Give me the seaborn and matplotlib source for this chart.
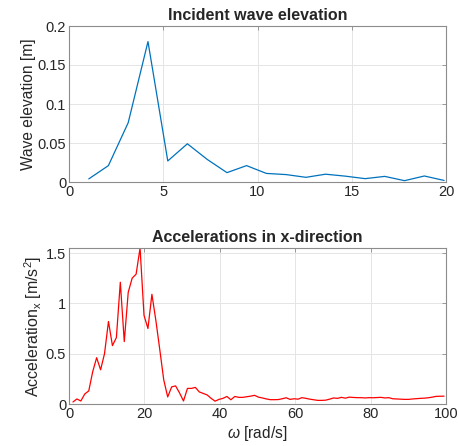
import numpy as np
import pandas as pd
import matplotlib
matplotlib.use("Agg")
import matplotlib.pyplot as plt
import seaborn as sns

# ---- data ----
wave_omega = [1.05, 2.09, 3.14, 4.19, 5.24, 6.28, 7.33, 8.38, 9.42, 10.47,
              11.52, 12.57, 13.61, 14.66, 15.71, 16.75, 17.80, 18.85, 19.90]
wave_elev = [0.004, 0.021, 0.076, 0.180, 0.027, 0.049, 0.029, 0.012, 0.021, 0.011,
             0.0095, 0.006, 0.010, 0.0075, 0.0043, 0.0072, 0.0017, 0.0077, 0.002]

acc_omega = [1.05, 2.09, 3.14, 4.19, 5.24, 6.28, 7.33, 8.38, 9.42, 10.47,
             11.52, 12.57, 13.61, 14.66, 15.71, 16.75, 17.80, 18.85, 19.90, 20.94,
             21.99, 23.04, 24.08, 25.13, 26.18, 27.23, 28.27, 29.32, 30.37, 31.42,
             32.46, 33.51, 34.56, 35.60, 36.65, 37.70, 38.75, 39.79, 40.84, 41.89,
             42.94, 43.98, 45.03, 46.08, 47.12, 48.17, 49.22, 50.27, 51.31, 52.36,
             53.41, 54.45, 55.50, 56.55, 57.60, 58.64, 59.69, 60.74, 61.78, 62.83,
             63.88, 64.93, 65.97, 67.02, 68.07, 69.12, 70.16, 71.21, 72.26, 73.30,
             74.35, 75.40, 76.45, 77.49, 78.54, 79.59, 80.63, 81.68, 82.73, 83.78,
             84.82, 85.87, 86.92, 87.96, 89.01, 90.06, 91.11, 92.15, 93.20, 94.25,
             95.29, 96.34, 97.39, 98.44, 99.48]
acc_x = [0.02, 0.05, 0.03, 0.10, 0.13, 0.32, 0.46, 0.34, 0.50, 0.82,
         0.58, 0.66, 1.21, 0.62, 1.11, 1.25, 1.29, 1.55, 0.88, 0.75,
         1.09, 0.83, 0.54, 0.24, 0.07, 0.17, 0.18, 0.11, 0.03, 0.155,
         0.155, 0.165, 0.12, 0.105, 0.09, 0.056, 0.028, 0.046, 0.056, 0.075,
         0.042, 0.075, 0.066, 0.066, 0.072, 0.078, 0.086, 0.068, 0.060, 0.050,
         0.043, 0.043, 0.044, 0.052, 0.062, 0.046, 0.052, 0.048, 0.063, 0.056,
         0.048, 0.042, 0.036, 0.036, 0.038, 0.048, 0.060, 0.056, 0.066, 0.058,
         0.068, 0.065, 0.063, 0.063, 0.060, 0.063, 0.062, 0.064, 0.066, 0.060,
         0.063, 0.052, 0.050, 0.048, 0.046, 0.046, 0.050, 0.053, 0.056, 0.058,
         0.062, 0.068, 0.076, 0.077, 0.078]

wave_xticks = [0, 5, 10, 15, 20]
wave_yticks = [0, 0.05, 0.1, 0.15, 0.2]
wave_ylabels = ["0", "0.05", "0.1", "0.15", "0.2"]
acc_xticks = [0, 20, 40, 60, 80, 100]
acc_yticks = [0, 0.5, 1, 1.5]
acc_ylabels = ["0", "0.5", "1", "1.5"]

sns.set_style("white")
plt.rcParams['font.family'] = ['Liberation Sans', 'DejaVu Sans']
plt.rcParams['mathtext.fontset'] = 'custom'
plt.rcParams['mathtext.rm'] = 'Liberation Sans'
plt.rcParams['mathtext.it'] = 'Liberation Sans:italic'

W, H = 459, 446
fig = plt.figure(figsize=(W / 100, H / 100), dpi=100)

def box(l, t, r, b):
    return [l / W, 1 - b / H, (r - l) / W, (b - t) / H]

ax1 = fig.add_axes(box(69, 26, 446, 182))
ax2 = fig.add_axes(box(69, 248, 446, 404))

df1 = pd.DataFrame({"omega": wave_omega, "elev": wave_elev})
df2 = pd.DataFrame({"omega": acc_omega, "acc": acc_x})
sns.lineplot(data=df1, x="omega", y="elev", ax=ax1, color="#0072BD", linewidth=0.9)
sns.lineplot(data=df2, x="omega", y="acc", ax=ax2, color="#FF0000", linewidth=0.9)

spine_c = "#8c8c8c"
for ax in (ax1, ax2):
    ax.grid(True, color="#e5e5e5", linewidth=0.7)
    ax.set_axisbelow(True)
    for s in ax.spines.values():
        s.set_color(spine_c)
        s.set_linewidth(0.8)
    ax.tick_params(direction="in", top=True, right=True, length=3, width=0.6,
                   color=spine_c, labelsize=10.5, labelcolor="#262626", pad=2)

ax1.set_xlim(0, 20)
ax1.set_ylim(0, 0.2)
ax1.set_xticks(wave_xticks)
ax1.set_yticks(wave_yticks, wave_ylabels)
ax1.set_xlabel("")
ax1.set_ylabel("Wave elevation [m]", fontsize=11.2, color="#262626", labelpad=1)
ax1.set_title("Incident wave elevation", fontsize=11.5, fontweight="bold", pad=4)

ax2.set_xlim(0, 100)
ax2.set_ylim(0, 1.55)
ax2.set_xticks(acc_xticks)
ax2.set_yticks(acc_yticks, acc_ylabels)
ax2.set_xlabel(r"$\mathit{\omega}$ [rad/s]", fontsize=11.2, color="#262626", labelpad=2)
ax2.set_ylabel(r"Acceleration$_\mathrm{x}$ [m/s$^2$]", fontsize=11.5, color="#262626", labelpad=1)
ax2.set_title("Accelerations in x-direction", fontsize=11.5, fontweight="bold", pad=4)

fig.savefig("out.png", dpi=100)
